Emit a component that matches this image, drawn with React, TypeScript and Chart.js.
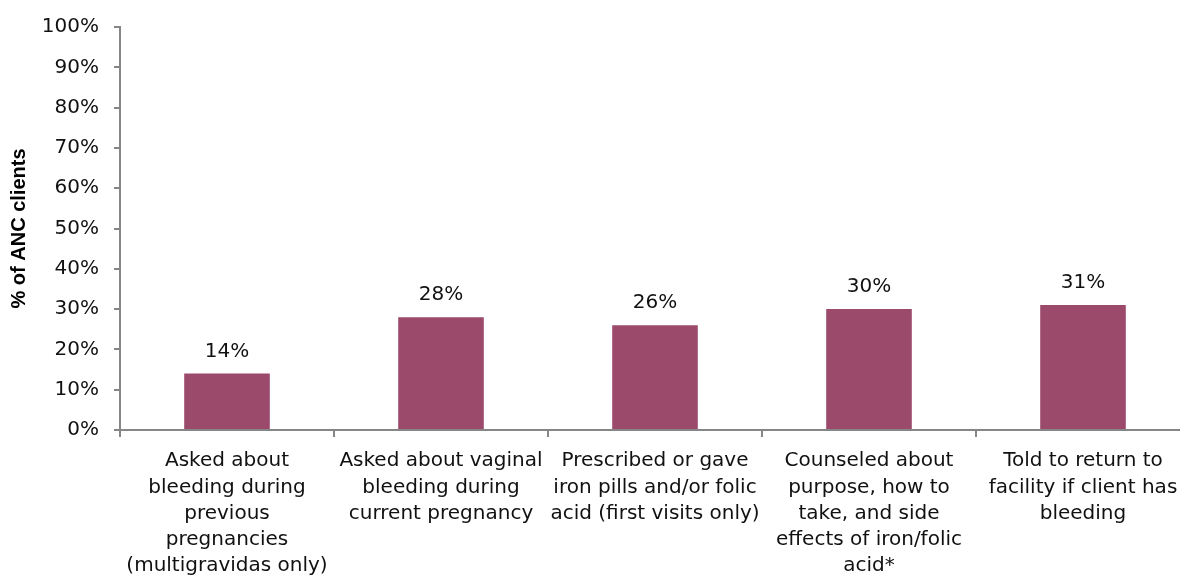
import React, { useEffect, useRef } from "react";
import { Chart, registerables } from "chart.js";

Chart.register(...registerables);

const categories: string[][] = [
  ["Asked about", "bleeding during", "previous", "pregnancies", "(multigravidas only)"],
  ["Asked about vaginal", "bleeding during", "current pregnancy"],
  ["Prescribed or gave", "iron pills and/or folic", "acid (first visits only)"],
  ["Counseled about", "purpose, how to", "take, and side", "effects of iron/folic", "acid*"],
  ["Told to return to", "facility if client has", "bleeding"],
];
const values: number[] = [14, 28, 26, 30, 31];
const yTicks: number[] = [0, 10, 20, 30, 40, 50, 60, 70, 80, 90, 100];

const FONT = "'DejaVu Sans', sans-serif";
const TITLE_FONT = "'Liberation Sans', Arial, sans-serif";
const AXIS = "#868686";
const BAR = "#9B4A6B";

const labelPlugin = {
  id: "valueLabels",
  afterDatasetsDraw(chart: any) {
    const ctx = chart.ctx;
    const meta = chart.getDatasetMeta(0);
    ctx.save();
    ctx.font = `20px ${FONT}`;
    ctx.fillStyle = "#111";
    ctx.textAlign = "center";
    ctx.textBaseline = "alphabetic";
    meta.data.forEach((el: any, i: number) => {
      ctx.fillText(`${values[i]}%`, el.x, el.y - 17);
    });
    ctx.restore();
  },
};

export default function App() {
  const ref = useRef<HTMLCanvasElement | null>(null);
  useEffect(() => {
    if (!ref.current) return;
    const chart = new Chart(ref.current, {
      type: "bar",
      data: {
        labels: categories,
        datasets: [
          {
            data: values,
            backgroundColor: BAR,
            borderWidth: 0,
            categoryPercentage: 1,
            barPercentage: 0.4,
          },
        ],
      },
      options: {
        animation: false,
        responsive: false,
        layout: { padding: { top: 24, right: 0, left: 0, bottom: 0 } },
        plugins: { legend: { display: false }, tooltip: { enabled: false } },
        scales: {
          x: {
            grid: {
              display: true,
              drawOnChartArea: false,
              drawTicks: true,
              tickLength: 7,
              offset: true,
              color: AXIS,
              lineWidth: 2,
            },
            border: { color: AXIS, width: 2 },
            ticks: {
              color: "#111",
              font: { family: FONT, size: 20, lineHeight: 1.31 },
              padding: 11,
              maxRotation: 0,
              autoSkip: false,
            },
            afterFit(scale: any) {
              scale.height = 148;
            },
          },
          y: {
            min: 0,
            max: 100,
            afterBuildTicks(scale: any) {
              scale.ticks = yTicks.map((v) => ({ value: v }));
            },
            grid: {
              display: true,
              drawOnChartArea: false,
              drawTicks: true,
              tickLength: 6,
              color: AXIS,
              lineWidth: 2,
            },
            border: { color: AXIS, width: 2 },
            ticks: {
              color: "#111",
              font: { family: FONT, size: 20 },
              padding: 15,
              callback: (v: any) => `${v}%`,
            },
            title: {
              display: true,
              text: "% of ANC clients",
              color: "#000",
              font: { family: TITLE_FONT, size: 20, weight: "bold" },
              padding: { top: 7, bottom: 0 },
            },
            afterFit(scale: any) {
              scale.width = 120;
            },
          },
        },
      },
      plugins: [labelPlugin],
    });
    return () => chart.destroy();
  }, []);
  return (
    <div
      style={{
        position: "fixed",
        left: 0,
        top: 0,
        width: 1180,
        height: 578,
        overflow: "hidden",
        background: "#fff",
      }}
    >
      <canvas ref={ref} width={1190} height={578} style={{ display: "block" }} />
    </div>
  );
}
